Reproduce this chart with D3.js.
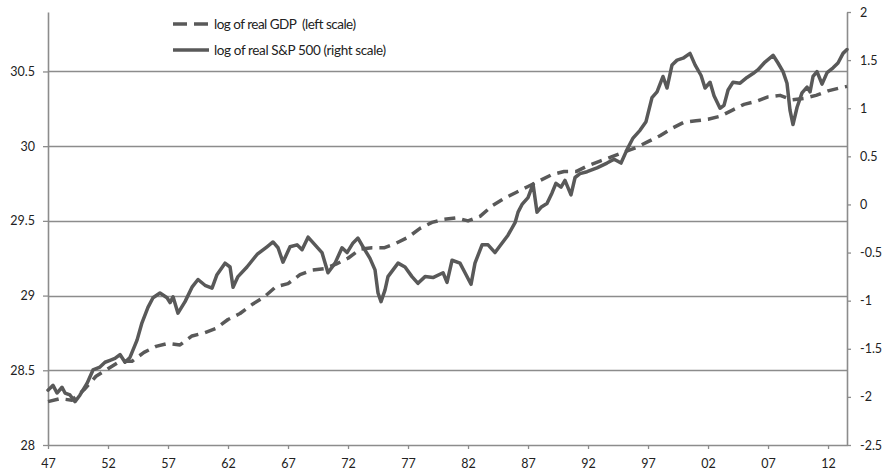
<!DOCTYPE html>
<html>
<head>
<meta charset="utf-8">
<script src="https://cdn.jsdelivr.net/npm/d3@7"></script>
<style>
  html, body { margin: 0; padding: 0; background: #fff; }
  svg { display: block; }
  text { font-family: Lato, "Liberation Sans", sans-serif; fill: #222; }
</style>
</head>
<body>
<svg id="chart" width="883" height="470"></svg>
<script>
// ---- data ----
const gdpYears = [1947,1948,1949,1950,1951,1952,1953,1954,1955,1956,1957,1958,1959,1960,1961,1962,1963,1964,1965,1966,1967,1968,1969,1970,1971,1972,1973,1974,1975,1976,1977,1978,1979,1980,1981,1982,1983,1984,1985,1986,1987,1988,1989,1990,1991,1992,1993,1994,1995,1996,1997,1998,1999,2000,2001,2002,2003,2004,2005,2006,2007,2008,2009,2010,2011,2012,2013,2013.58];
const gdpLog = [28.29,28.31,28.30,28.37,28.46,28.51,28.56,28.56,28.62,28.66,
  28.68,28.67,28.73,28.75,28.78,28.84,28.88,28.94,28.99,29.06,
  29.08,29.14,29.17,29.18,29.21,29.25,29.31,29.32,29.32,29.35,
  29.39,29.45,29.49,29.51,29.52,29.50,29.53,29.60,29.65,29.69,
  29.73,29.77,29.81,29.83,29.83,29.87,29.90,29.93,29.96,29.99,
  30.03,30.07,30.12,30.16,30.17,30.18,30.20,30.24,30.28,30.30,
  30.33,30.34,30.31,30.32,30.34,30.37,30.39,30.40];

const spYears = [1947.00,1947.42,1947.75,1948.17,1948.42,1948.83,1949.25,1949.67,1950.25,1950.75,
  1951.33,1951.75,1952.17,1952.58,1953.00,1953.42,1953.83,1954.42,1954.83,1955.33,
  1955.75,1956.33,1956.92,1957.17,1957.42,1957.83,1958.42,1959.00,1959.50,1960.08,
  1960.67,1961.08,1961.75,1962.17,1962.42,1962.83,1963.58,1964.42,1965.25,1965.75,
  1966.17,1966.58,1967.17,1967.75,1968.17,1968.67,1969.25,1969.83,1970.33,1970.92,
  1971.50,1971.92,1972.42,1972.83,1973.25,1973.83,1974.25,1974.50,1974.75,1975.08,
  1975.33,1975.75,1976.17,1976.75,1977.33,1977.83,1978.42,1979.08,1979.92,1980.25,
  1980.67,1981.33,1981.75,1982.25,1982.58,1983.17,1983.67,1984.25,1984.67,1985.33,
  1985.92,1986.17,1986.50,1987.00,1987.42,1987.75,1988.08,1988.58,1989.00,1989.33,
  1989.75,1990.08,1990.58,1990.92,1991.33,1991.92,1992.75,1993.58,1994.17,1994.75,
  1995.25,1995.75,1996.33,1996.83,1997.33,1997.75,1998.25,1998.58,1999.00,1999.42,
  1999.92,2000.50,2000.92,2001.42,2001.75,2002.17,2002.50,2003.00,2003.33,2003.67,
  2004.08,2004.67,2005.25,2005.75,2006.17,2006.75,2007.42,2007.83,2008.25,2008.58,
  2008.83,2009.08,2009.42,2009.83,2010.25,2010.50,2010.75,2011.08,2011.50,2011.92,
  2012.42,2012.83,2013.25,2013.58];
const spLog = [-1.93,-1.88,-1.96,-1.90,-1.96,-1.98,-2.05,-1.98,-1.86,-1.72,
  -1.69,-1.64,-1.62,-1.60,-1.56,-1.64,-1.59,-1.41,-1.23,-1.07,
  -0.97,-0.92,-0.97,-1.02,-0.96,-1.13,-1.01,-0.86,-0.78,-0.84,
  -0.87,-0.73,-0.61,-0.65,-0.86,-0.75,-0.65,-0.52,-0.44,-0.39,
  -0.45,-0.60,-0.44,-0.42,-0.47,-0.34,-0.42,-0.50,-0.71,-0.61,
  -0.45,-0.50,-0.40,-0.35,-0.44,-0.56,-0.68,-0.92,-1.01,-0.89,
  -0.75,-0.68,-0.61,-0.65,-0.75,-0.82,-0.75,-0.76,-0.71,-0.81,
  -0.58,-0.61,-0.71,-0.83,-0.61,-0.42,-0.42,-0.50,-0.43,-0.32,
  -0.19,-0.08,0.00,0.07,0.21,-0.08,-0.03,0.01,0.12,0.22,
  0.18,0.25,0.10,0.28,0.32,0.34,0.38,0.43,0.47,0.43,
  0.57,0.69,0.77,0.86,1.11,1.17,1.33,1.21,1.45,1.50,
  1.52,1.57,1.45,1.34,1.21,1.27,1.13,1.00,1.03,1.19,
  1.27,1.26,1.32,1.36,1.40,1.48,1.55,1.47,1.38,1.26,
  0.98,0.83,1.01,1.16,1.22,1.17,1.33,1.38,1.25,1.37,
  1.42,1.47,1.57,1.61];

const xTickYears  = [1947,1952,1957,1962,1967,1972,1977,1982,1987,1992,1997,2002,2007,2012];
const xTickLabels = ["47","52","57","62","67","72","77","82","87","92","97","02","07","12"];
const leftTicks   = [28, 28.5, 29, 29.5, 30, 30.5];
const rightTicks  = [-2.5, -2, -1.5, -1, -0.5, 0, 0.5, 1, 1.5, 2];
const seriesNames = ["log of real GDP  (left scale)", "log of real S&P 500 (right scale)"];

// ---- layout ----
const plotLeft = 48, plotRight = 847, plotTop = 12, plotBottom = 445;
const axisColor = "#8c8c8c", lineColor = "#595959";

const svg = d3.select("#chart");
const x  = d3.scaleLinear().domain([1947, 2013.58]).range([plotLeft, plotRight]);
const yL = d3.scaleLinear().domain([28, 30.898]).range([plotBottom, plotTop]);
const yR = d3.scaleLinear().domain([-2.5, 2]).range([plotBottom, plotTop]);

// gridlines
svg.append("g").selectAll("line")
  .data(leftTicks.filter(d => d > 28))
  .join("line")
  .attr("x1", plotLeft).attr("x2", plotRight)
  .attr("y1", d => Math.round(yL(d)) + 0.5).attr("y2", d => Math.round(yL(d)) + 0.5)
  .attr("stroke", axisColor).attr("stroke-width", 1.6);

function styleAxis(g) {
  g.selectAll("path.domain").attr("stroke", axisColor).attr("stroke-width", 1.6);
  g.selectAll(".tick line").attr("stroke", axisColor).attr("stroke-width", 1.3);
  g.selectAll(".tick text").attr("fill", "#222").style("font-family", "Lato, sans-serif").style("font-size", "12.5px");
}

// left axis
svg.append("g")
  .attr("transform", `translate(${plotLeft},0)`)
  .call(d3.axisLeft(yL).tickValues(leftTicks).tickSizeInner(5).tickSizeOuter(0).tickPadding(8)
        .tickFormat(d => String(d)))
  .call(styleAxis);

// right axis
svg.append("g")
  .attr("transform", `translate(${plotRight},0)`)
  .call(d3.axisRight(yR).tickValues(rightTicks).tickSizeInner(4).tickSizeOuter(0).tickPadding(9)
        .tickFormat(d => String(d)))
  .call(styleAxis);

// bottom axis
svg.append("g")
  .attr("transform", `translate(0,${plotBottom})`)
  .call(d3.axisBottom(x).tickValues(xTickYears).tickSizeInner(4).tickSizeOuter(0).tickPadding(10)
        .tickFormat((d, i) => xTickLabels[i]))
  .call(styleAxis);

// lines
const gdpLine = d3.line().x(d => x(d[0])).y(d => yL(d[1]));
const spLine  = d3.line().x(d => x(d[0])).y(d => yR(d[1]));

svg.append("path")
  .datum(d3.zip(gdpYears, gdpLog))
  .attr("d", gdpLine)
  .attr("fill", "none").attr("stroke", lineColor).attr("stroke-width", 3.5)
  .attr("stroke-dasharray", "11,7").attr("stroke-linejoin", "round");

svg.append("path")
  .datum(d3.zip(spYears, spLog))
  .attr("d", spLine)
  .attr("fill", "none").attr("stroke", lineColor).attr("stroke-width", 3.5)
  .attr("stroke-linejoin", "round").attr("stroke-linecap", "round");

// legend
const legend = svg.append("g");
const legendRows = [
  { name: seriesNames[0], dash: "14,7", y: 24, len: 142 },
  { name: seriesNames[1], dash: null, y: 50, len: 172 }
];
legendRows.forEach(r => {
  const ln = legend.append("line")
    .attr("x1", 173).attr("x2", 209).attr("y1", r.y).attr("y2", r.y)
    .attr("stroke", lineColor).attr("stroke-width", 3.5);
  if (r.dash) ln.attr("stroke-dasharray", r.dash);
  legend.append("text")
    .attr("x", 214).attr("y", r.y).attr("dy", "0.35em")
    .attr("textLength", r.len).attr("lengthAdjust", "spacing")
    .style("font-size", "13.5px").style("white-space", "pre")
    .text(r.name);
});
</script>
</body>
</html>
